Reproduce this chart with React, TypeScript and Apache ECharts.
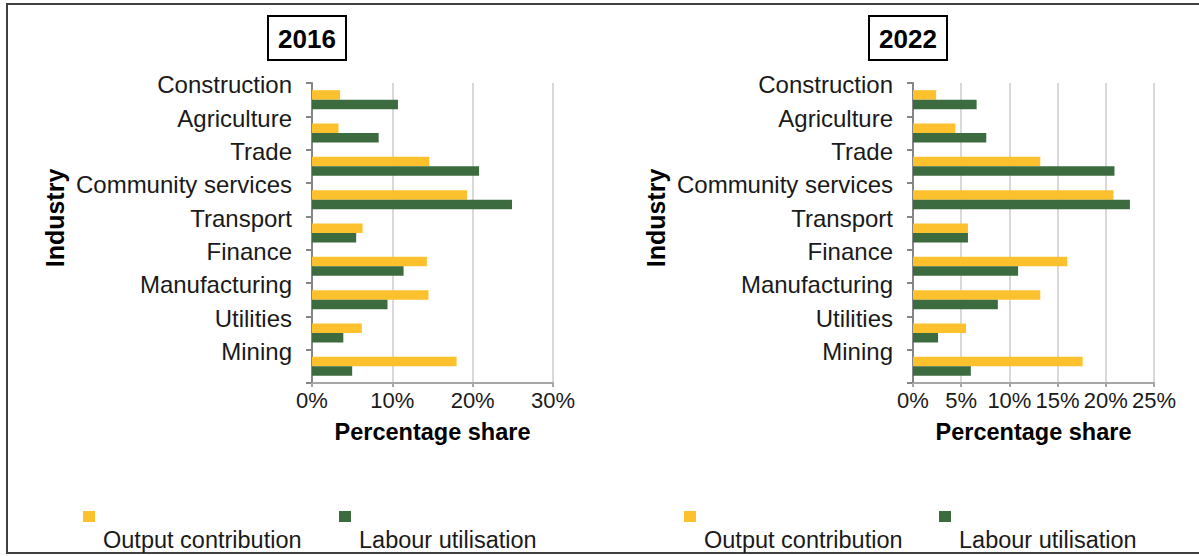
import React, { useEffect, useRef } from 'react';
import * as echarts from 'echarts';

const industries = [
  'Construction',
  'Agriculture',
  'Trade',
  'Community services',
  'Transport',
  'Finance',
  'Manufacturing',
  'Utilities',
  'Mining',
];

const output2016 = [3.5, 3.3, 14.6, 19.3, 6.3, 14.3, 14.5, 6.2, 18.0];
const labour2016 = [10.7, 8.3, 20.8, 24.9, 5.5, 11.4, 9.4, 3.9, 5.0];
const output2022 = [2.4, 4.4, 13.2, 20.8, 5.7, 16.0, 13.2, 5.5, 17.6];
const labour2022 = [6.6, 7.6, 20.9, 22.5, 5.7, 10.9, 8.8, 2.6, 6.0];

const years = ['2016', '2022'];
const seriesNames = ['Output contribution', 'Labour utilisation'];
const xTicks2016 = [0, 10, 20, 30];
const xTicks2022 = [0, 5, 10, 15, 20, 25];

const FONT = '"Liberation Sans", Arial, Helvetica, sans-serif';
const YELLOW = '#FCC12D';
const GREEN = '#3D6B40';
const TEXT = '#1a1a1a';

export default function App() {
  const ref = useRef<HTMLDivElement>(null);

  useEffect(() => {
    if (!ref.current) return;
    const chart = echarts.init(ref.current, null, { renderer: 'svg' });

    const offX = [0, 601];
    const ticks = [xTicks2016, xTicks2022];
    const outputs = [output2016, output2022];
    const labours = [labour2016, labour2022];
    const colors = [YELLOW, GREEN];

    const grid = [0, 1].map((i) => ({
      left: 312 + offX[i],
      top: 83,
      width: 241,
      height: 300,
    }));

    const xAxis = [0, 1].map((i) => ({
      type: 'value',
      gridIndex: i,
      min: ticks[i][0],
      max: ticks[i][ticks[i].length - 1],
      interval: ticks[i][1] - ticks[i][0],
      axisLine: { show: true, lineStyle: { color: '#a6a6a6', width: 2 } },
      axisTick: { show: true, length: 4, lineStyle: { color: '#a6a6a6', width: 2 } },
      splitLine: { show: true, lineStyle: { color: '#d9d9d9', width: 2 } },
      axisLabel: {
        formatter: '{value}%',
        fontSize: 22,
        color: TEXT,
        margin: 6,
        fontFamily: FONT,
        hideOverlap: false,
      },
      name: 'Percentage share',
      nameLocation: 'middle',
      nameGap: 37,
      nameTextStyle: { fontSize: 23.5, fontWeight: 'bold', color: '#000', fontFamily: FONT },
    }));

    const yAxis = [0, 1].map((i) => ({
      type: 'category',
      gridIndex: i,
      data: industries,
      inverse: true,
      axisLine: { show: true, lineStyle: { color: '#868686', width: 2 } },
      axisTick: { show: true, length: 6, lineStyle: { color: '#868686', width: 2 } },
      axisLabel: {
        fontSize: 24,
        color: TEXT,
        margin: 20,
        verticalAlign: 'bottom',
        lineHeight: 30,
        fontFamily: FONT,
        interval: 0,
      },
      splitLine: { show: false },
    }));

    const series: any[] = [];
    [0, 1].forEach((i) => {
      series.push({
        type: 'bar',
        name: seriesNames[0],
        xAxisIndex: i,
        yAxisIndex: i,
        data: outputs[i],
        barWidth: 9.5,
        barGap: '0%',
        itemStyle: { color: YELLOW },
      });
      series.push({
        type: 'bar',
        name: seriesNames[1],
        xAxisIndex: i,
        yAxisIndex: i,
        data: labours[i],
        barWidth: 9.5,
        barGap: '0%',
        itemStyle: { color: GREEN },
      });
    });

    const legendIconX = [
      [83, 339],
      [684, 939],
    ];

    const graphic: any[] = [
      {
        type: 'rect',
        shape: { x: 7, y: 4, width: 1200, height: 549 },
        style: { fill: 'none', stroke: '#404040', lineWidth: 2 },
        silent: true,
      },
    ];
    [0, 1].forEach((i) => {
      const cx = 307 + offX[i];
      graphic.push({
        type: 'rect',
        shape: { x: cx - 39, y: 16, width: 78, height: 44 },
        style: { fill: '#fff', stroke: '#000', lineWidth: 2 },
        silent: true,
      });
      graphic.push({
        type: 'text',
        x: cx,
        y: 38.5,
        style: {
          text: years[i],
          fontSize: 26,
          fontWeight: 'bold',
          fontFamily: FONT,
          fill: '#000',
          align: 'center',
          verticalAlign: 'middle',
          textAlign: 'center',
          textVerticalAlign: 'middle',
        },
        silent: true,
      });
      graphic.push({
        type: 'text',
        x: 55 + offX[i],
        y: 218,
        rotation: Math.PI / 2,
        style: {
          text: 'Industry',
          fontSize: 25,
          fontWeight: 'bold',
          fontFamily: FONT,
          fill: '#000',
          align: 'center',
          verticalAlign: 'middle',
          textAlign: 'center',
          textVerticalAlign: 'middle',
        },
        silent: true,
      });
      seriesNames.forEach((nm, k) => {
        const ix = legendIconX[i][k];
        graphic.push({
          type: 'rect',
          shape: { x: ix, y: 511, width: 12, height: 11 },
          style: { fill: colors[k] },
          silent: true,
        });
        graphic.push({
          type: 'text',
          x: ix + 20,
          y: 540,
          style: {
            text: nm,
            fontSize: 23.5,
            fontFamily: FONT,
            fill: TEXT,
            align: 'left',
            verticalAlign: 'middle',
            textAlign: 'left',
            textVerticalAlign: 'middle',
          },
          silent: true,
        });
      });
    });

    chart.setOption({
      animation: false,
      backgroundColor: '#fff',
      textStyle: { fontFamily: FONT },
      grid,
      xAxis,
      yAxis,
      series,
      graphic,
    });

    return () => {
      chart.dispose();
    };
  }, []);

  return (
    <div
      ref={ref}
      style={{ position: 'fixed', left: 0, top: 0, width: 1199, height: 556, background: '#fff' }}
    />
  );
}
